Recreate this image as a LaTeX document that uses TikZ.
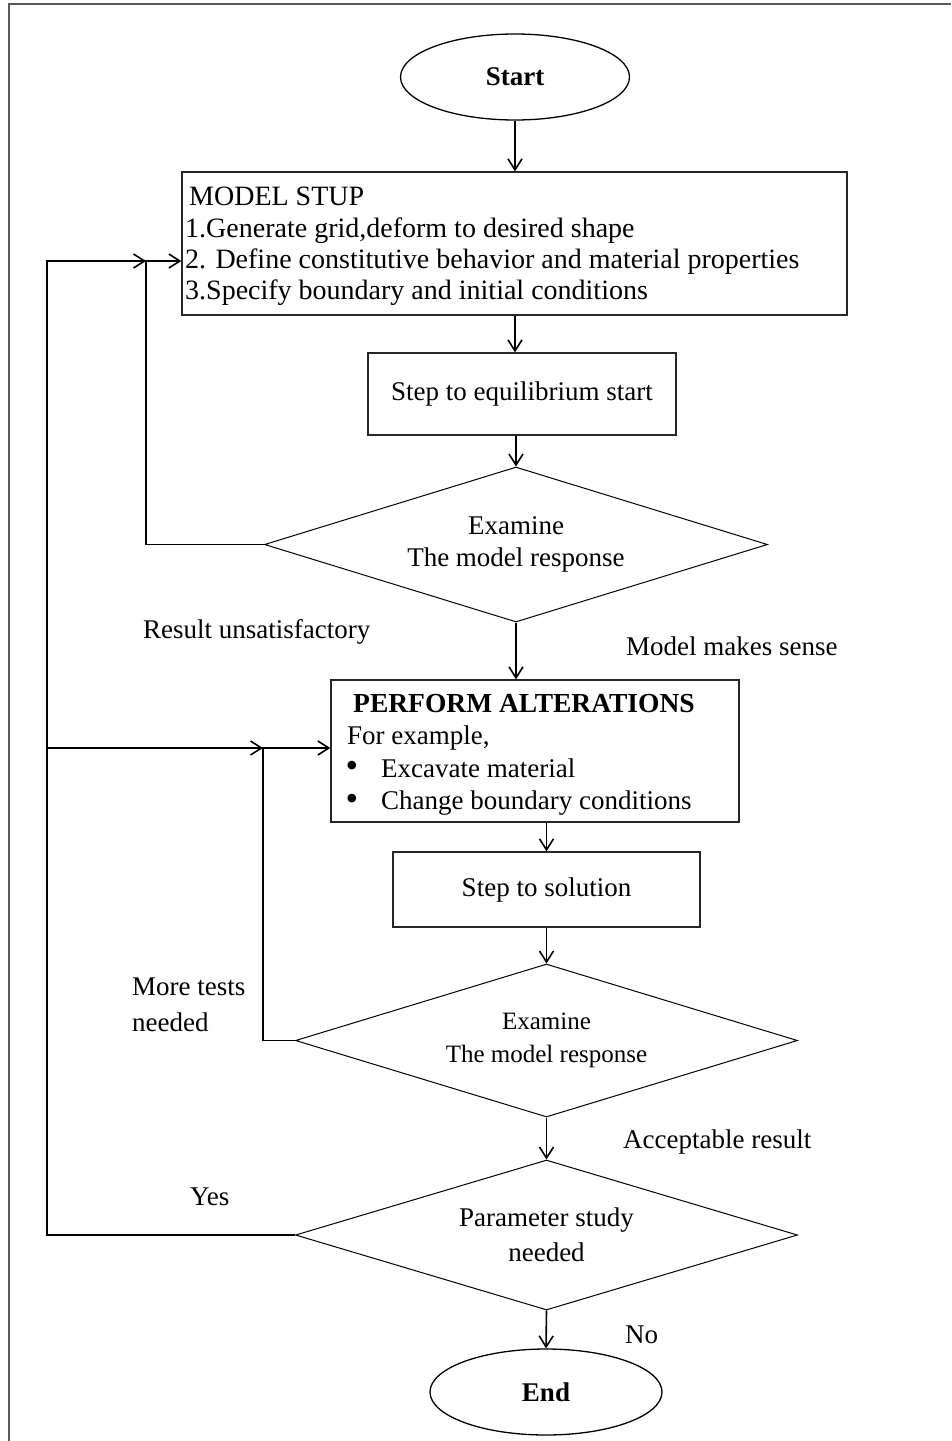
\documentclass[tikz,border=0pt]{standalone}
\usepackage{fontspec}
\setmainfont{Liberation Serif}
\usetikzlibrary{shapes.geometric,arrows.meta}
\begin{document}
\begin{tikzpicture}[x=1pt,y=-1pt,
  txt/.style={font=\fontsize{27}{31}\selectfont, inner sep=0pt},
  setuptxt/.style={font=\fontsize{28}{31}\selectfont, inner sep=0pt},
  boxnode/.style={draw=black!85, line width=1.3pt, inner sep=0pt},
  dec/.style={diamond, aspect=3.3, draw=black, line width=1pt, inner sep=0pt, align=center, font=\fontsize{27}{32}\selectfont},
  term/.style={ellipse, draw=black, line width=1.3pt, inner sep=0pt, font=\bfseries\fontsize{27}{31}\selectfont},
  bul/.style={font=\fontsize{36}{36}\selectfont, inner sep=0pt},
  conn/.style={line width=1.6pt, -{Straight Barb[length=11pt,width=14pt,line width=1.6pt]}},
]
\useasboundingbox (0,0) rectangle (951,1441);
\draw[black!65, line width=2pt] (9,1441) -- (9,4) -- (951,4);

\node[term, minimum width=229pt, minimum height=86pt] (start) at (515,77) {Start};

\node[boxnode, minimum width=665pt, minimum height=143pt] (setup) at (514.5,243.5) {};
\node[setuptxt, anchor=base west] (s0) at (189,205) {MODEL STUP};
\node[setuptxt, anchor=base west] (s1) at (185,237) {1.Generate grid,deform to desired shape};
\node[setuptxt, anchor=base west] (s2) at (185,268) {2. Define constitutive behavior and material properties};
\node[setuptxt, anchor=base west] (s3) at (185,299) {3.Specify boundary and initial conditions};

\node[boxnode, txt, minimum width=308pt, minimum height=82pt] (eq) at (522,394) {Step to equilibrium start};

\node[dec, minimum width=503pt, minimum height=155pt] (d1) at (516,544.5) {Examine\\The model response};

\node[txt, anchor=west] (lru) at (143,632) {Result unsatisfactory};
\node[txt, anchor=west] (lms) at (626,646) {Model makes sense};

\node[boxnode, minimum width=408pt, minimum height=142pt] (perf) at (535,751) {};
\node[txt, anchor=base west, font=\bfseries\fontsize{27.5}{31}\selectfont] (p0) at (353,712) {PERFORM ALTERATIONS};
\node[txt, anchor=base west] (p1) at (347,744) {For example,};
\node[bul] (b1) at (352,769) {•};
\node[txt, anchor=base west] (p2) at (381,777) {Excavate material};
\node[bul] (b2) at (352,802) {•};
\node[txt, anchor=base west] (p3) at (381,809) {Change boundary conditions};

\node[boxnode, txt, minimum width=307pt, minimum height=75pt] (sol) at (546.5,889.5) {Step to solution};

\node[dec, minimum width=502pt, minimum height=153pt, font=\fontsize{25}{33}\selectfont] (d2) at (546.5,1040.5) {Examine\\The model response};

\node[txt, anchor=west, align=left, font=\fontsize{27}{36}\selectfont] (mt) at (132,1005) {More tests\\needed};
\node[txt, anchor=west] (acc) at (623,1142) {Acceptable result};

\node[dec, minimum width=502pt, minimum height=150pt, font=\fontsize{27}{35}\selectfont] (d3) at (546.5,1235) {Parameter study\\needed};

\node[txt, anchor=west] (yes) at (190,1197) {Yes};
\node[txt, anchor=west] (no) at (625,1335) {No};

\node[term, minimum width=232pt, minimum height=86pt] (end) at (546,1392) {End};

% main flow
\draw[conn] (start.south) -- (start.south |- setup.north);
\draw[conn] (setup.south -| start.south) -- (eq.north -| start.south);
\draw[conn] (eq.south -| d1.north) -- (d1.north);
\draw[conn] (d1.south) -- (d1.south |- perf.north);
\draw[conn] (perf.south -| sol.north) -- (sol.north);
\draw[conn] (sol.south) -- (d2.north);
\draw[conn] (d2.south) -- (d3.north);
\draw[conn] (d3.south) -- (end.north);

% loops
\coordinate (j1) at (146,261);
\coordinate (o1) at (47,261);
\coordinate (j2) at (263,748);
\draw[conn] (d1.west) -| (j1) -- (j1 -| setup.west);
\draw[conn] (d3.west) -| (o1) -- (j1);
\draw[conn] (o1 |- j2) -- (j2);
\draw[conn] (d2.west) -| (j2) -- (j2 -| perf.west);
\end{tikzpicture}
\end{document}
